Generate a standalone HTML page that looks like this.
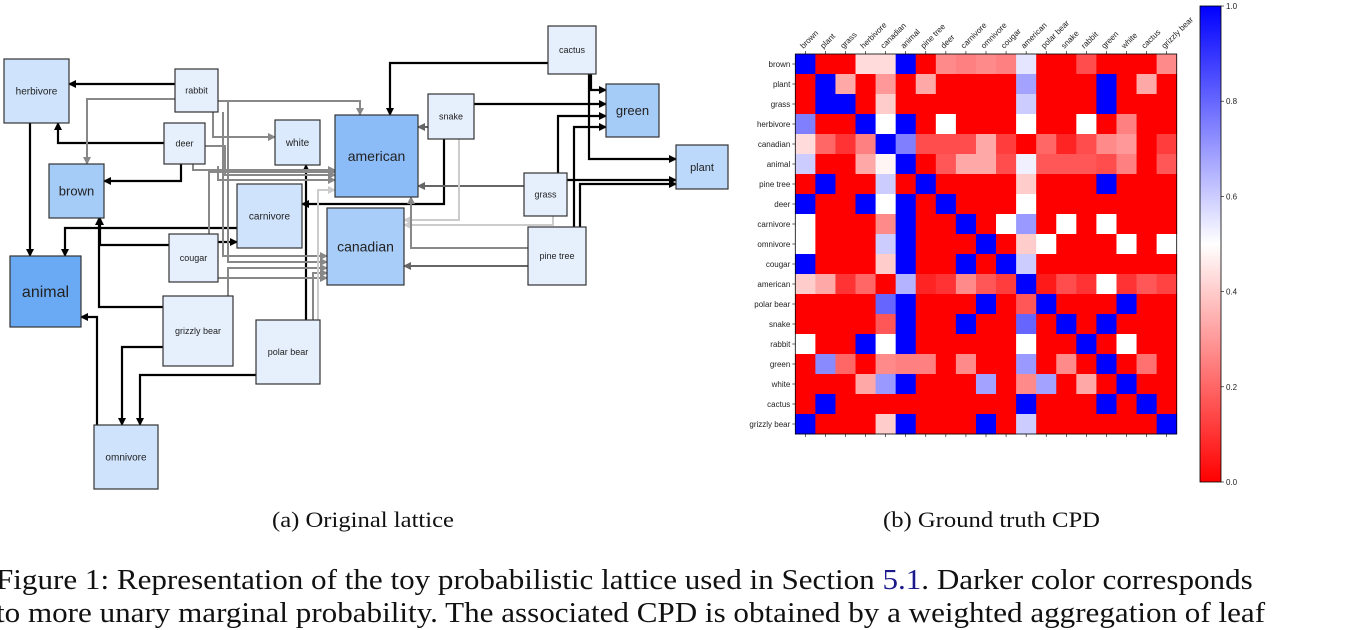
<!DOCTYPE html>
<html><head><meta charset="utf-8">
<style>
body{margin:0;width:1349px;height:624px;overflow:hidden;background:#fff;font-family:"Liberation Sans",sans-serif;position:relative}
svg{position:absolute;left:0;top:0}
.cap{position:absolute;font-family:"Liberation Serif",serif;white-space:nowrap;color:#111;transform-origin:0 0}
</style></head><body>
<svg id="lat" width="740" height="500" viewBox="0 0 740 500">
<defs>
<marker id="ak" markerWidth="8" markerHeight="8" refX="7" refY="4" orient="auto" markerUnits="userSpaceOnUse"><path d="M0,0L8,4L0,8z" fill="#000"/></marker>
<marker id="ag" markerWidth="8" markerHeight="8" refX="7" refY="4" orient="auto" markerUnits="userSpaceOnUse"><path d="M0,0L8,4L0,8z" fill="#888"/></marker>
<marker id="ad" markerWidth="8" markerHeight="8" refX="7" refY="4" orient="auto" markerUnits="userSpaceOnUse"><path d="M0,0L8,4L0,8z" fill="#666"/></marker>
<marker id="al" markerWidth="8" markerHeight="8" refX="7" refY="4" orient="auto" markerUnits="userSpaceOnUse"><path d="M0,0L8,4L0,8z" fill="#ccc"/></marker>
</defs>
<g id="edges"></g><g id="nodes"></g>
</svg>
<svg id="hm" width="1349" height="500" style="left:0;top:0" viewBox="0 0 1349 500">
<defs><linearGradient id="cb" x1="0" y1="0" x2="0" y2="1"><stop offset="0" stop-color="#0000ff"/><stop offset="0.5" stop-color="#ffffff"/><stop offset="1" stop-color="#ff0000"/></linearGradient></defs>
<g id="cells"></g><g id="hlabels"></g>
<rect x="1200" y="6" width="21" height="476" fill="url(#cb)" stroke="#000" stroke-width="0.8"/>
<g id="cbt"></g>
</svg>
<div class="cap" style="left:272px;top:507px;font-size:22px;transform:scaleX(1.12)">(a) Original lattice</div>
<div class="cap" style="left:883px;top:507px;font-size:22px;transform:scaleX(1.12)">(b) Ground truth CPD</div>
<div class="cap" style="left:-4px;top:565px;font-size:28px;transform:scaleX(1.11)">Figure 1: Representation of the toy probabilistic lattice used in Section <span style="color:#1a1a8c">5.1</span>. Darker color corresponds</div>
<div class="cap" style="left:-4px;top:598px;font-size:28px;transform:scaleX(1.11)">to more unary marginal probability. The associated CPD is obtained by a weighted aggregation of leaf</div>
<script>
const NS="http://www.w3.org/2000/svg";
function mk(t,a,p){const e=document.createElementNS(NS,t);for(const k in a)e.setAttribute(k,a[k]);p.appendChild(e);return e;}
const nodes=[["herbivore",4,59,65,64,"#cfe3fc",10],["rabbit",175,69,43,43,"#e6f0fd",9],["deer",164,123,41,41,"#e6f0fd",9],["white",275,120,45,45,"#dbeafd",10],["brown",49,164,55,54,"#a5cbf7",13],["carnivore",237,184,65,64,"#cfe3fc",10],["cougar",169,234,49,48,"#e6f0fd",9],["animal",10,256,71,71,"#6aaaf5",16],["grizzly bear",163,296,70,70,"#e6f0fd",9],["polar bear",256,320,64,64,"#e6f0fd",9],["omnivore",94,425,64,64,"#cfe3fc",10],["american",335,115,83,82,"#8bbcf8",14],["canadian",327,208,77,77,"#a8cdf9",14],["snake",428,94,46,45,"#e6f0fd",9],["cactus",548,26,48,48,"#e6f0fd",9],["green",606,84,53,53,"#a5cbf7",13],["plant",676,145,52,44,"#bcd8fa",11],["grass",524,173,43,43,"#e6f0fd",9],["pine tree",528,227,58,58,"#e6f0fd",9]];
const edges=[
["k","175,84 69,84"],["k","164,143 58,143 58,123"],["k","181,164 181,181 104,181"],["k","30,123 30,256"],["k","237,228 65,228 65,256"],
["k","169,245 100,245 100,218"],["k","163,307 99,307 99,218"],["k","218,242 237,242"],["k","97,425 97,317 81,317"],["k","163,347 122,347 122,425"],
["k","256,375 140,375 140,425"],["k","306,320 306,165"],["k","444,139 444,204 302,204"],["k","548,63 390,63 390,115"],["k","474,104 606,104"],
["k","591,74 591,90 606,90"],["k","589,74 589,159 676,159"],["k","558,173 558,116 606,116"],["k","574,227 574,127 606,127"],["k","567,180 676,180"],["k","580,227 580,184 676,184"],
["g","175,99 87,99 87,164"],["g","213,112 213,137 275,137"],["g","218,101 360,101 360,115"],["g","193,164 193,170 335,170"],
["g","228,101 228,262 327,262"],["g","223,112 223,256 327,256"],["g","205,146 225,146 225,175 335,175"],["g","209,234 209,172 335,172"],["g","218,278 327,278"],["g","228,296 228,268 327,268"],
["g","218,166 218,180 335,180"],["g","313,320 313,273 327,273"],["l","318,320 318,190 335,190"],
["d","524,186 418,186"],["l","553,216 553,225 404,225"],["l","459,139 459,220 404,220"],["d","528,266 404,266"],["g","528,248 411,248 411,197"],["d","428,127 418,127"]];
const col={k:"#000",g:"#888",d:"#666",l:"#ccc"};
const eg=document.getElementById("edges");
edges.forEach((e,i)=>{const p=mk("polyline",{points:e[1],fill:"none",stroke:col[e[0]],"stroke-width":e[0]=="k"?2.2:2,"marker-end":"url(#a"+e[0]+")"},eg);

});
const ng=document.getElementById("nodes");
nodes.forEach(n=>{const g=mk("g",{},ng);


mk("rect",{x:n[1],y:n[2],width:n[3],height:n[4],fill:n[5],stroke:"#333","stroke-width":1.2},g);
const t=mk("text",{x:n[1]+n[3]/2,y:n[2]+n[4]/2+n[6]*0.35,"text-anchor":"middle","font-size":n[6],fill:"#222","font-family":"Liberation Sans, sans-serif"},g);t.textContent=n[0];});
</script>
<script>
const labels=["brown","plant","grass","herbivore","canadian","animal","pine tree","deer","carnivore","omnivore","cougar","american","polar bear","snake","rabbit","green","white","cactus","grizzly bear"];
const rowBrown=[1,0,0,.43,.43,1,0,.27,.25,.27,.25,.55,0,0,.15,0,0,0,.27];
const rowPlant=[0,1,.33,0,.3,0,.33,0,0,0,0,.68,0,0,0,1,0,.33,0];
const rowGrass=[0,1,1,0,.4,0,0,0,0,0,0,.6,0,0,0,1,0,0,0];
const rowHerbivore=[.75,0,0,1,.5,1,0,.5,0,0,0,.5,0,0,.5,0,.25,0,0];
const rowCanadian=[.43,.2,.1,.25,1,.75,.15,.15,.15,.33,.12,0,.2,.07,.15,.27,.3,0,.12];
const rowAnimal=[.6,0,0,.33,.48,1,0,.17,.33,.33,.15,.53,.17,.17,.17,.15,.25,0,.17];
const rowPineTree=[0,1,0,0,.6,0,1,0,0,0,0,.4,0,0,0,1,0,0,0];
const rowDeer=[1,0,0,1,.5,1,0,1,0,0,0,.5,0,0,0,0,0,0,0];
const rowCarnivore=[.5,0,0,0,.27,1,0,0,1,0,.5,.7,0,.5,0,.5,0,0,0];
const rowOmnivore=[.5,0,0,0,.6,1,0,0,0,1,0,.4,.5,0,0,0,.5,0,.5];
const rowCougar=[1,0,0,0,.4,1,0,0,1,0,1,.6,0,0,0,0,0,0,0];
const rowAmerican=[.4,.33,.1,.2,0,.65,.07,.1,.27,.17,.12,1,.05,.15,.1,.5,.1,.17,.13];
const rowPolarBear=[0,0,0,0,.8,1,0,0,0,1,0,.17,1,0,0,0,1,0,0];
const rowSnake=[0,0,0,0,.17,1,0,0,1,0,0,.8,0,1,0,1,0,0,0];
const rowRabbit=[.5,0,0,1,.5,1,0,0,0,0,0,.5,0,0,1,0,.5,0,0];
const rowGreen=[0,.73,.2,0,.27,.25,.25,0,.27,0,0,.7,0,.27,0,1,0,.22,0];
const rowWhite=[0,0,0,.33,.7,1,0,0,0,.68,0,.27,.68,0,.33,0,1,0,0];
const rowCactus=[0,1,0,0,0,0,0,0,0,0,0,1,0,0,0,1,0,1,0];
const rowGrizzly=[1,0,0,0,.4,1,0,0,0,1,0,.6,0,0,0,0,0,0,1];
const matrix=[rowBrown,rowPlant,rowGrass,rowHerbivore,rowCanadian,rowAnimal,rowPineTree,rowDeer,rowCarnivore,rowOmnivore,rowCougar,rowAmerican,rowPolarBear,rowSnake,rowRabbit,rowGreen,rowWhite,rowCactus,rowGrizzly];
const cbTicks=[0,0.2,0.4,0.6,0.8,1.0];
const cbTickLabels=["0.0","0.2","0.4","0.6","0.8","1.0"];
const X0=795.3,X1=1176.7,Y0=54,Y1=434;
const cw=(X1-X0)/labels.length,ch=(Y1-Y0)/labels.length;
const xs=i=>X0+i*cw, ys=j=>Y0+j*ch;
function cmap(v){v=Math.max(0,Math.min(1,v));let r,g,b;if(v<=.5){r=255;g=b=Math.round(510*v);}else{r=g=Math.round(510*(1-v));b=255;}return `rgb(${r},${g},${b})`;}
const cg=document.getElementById("cells");
matrix.forEach((row,j)=>row.forEach((v,i)=>{const r=mk("rect",{x:xs(i),y:ys(j),width:cw+0.4,height:ch+0.4,fill:cmap(v)},cg);

}));
mk("rect",{x:X0,y:Y0,width:X1-X0,height:Y1-Y0,fill:"none",stroke:"#000","stroke-width":0.8},cg);
const lg=document.getElementById("hlabels");
labels.forEach((l,i)=>{const cx=xs(i)+cw/2;
mk("line",{x1:cx,y1:Y0,x2:cx,y2:Y0-3,stroke:"#000","stroke-width":0.6},lg);
mk("line",{x1:cx,y1:Y1,x2:cx,y2:Y1+3,stroke:"#000","stroke-width":0.6},lg);
const t=mk("text",{x:cx-2,y:Y0-5,"font-size":8,fill:"#222",transform:`rotate(-45 ${cx-2} ${Y0-5})`},lg);t.textContent=l;


const cy=ys(i)+ch/2;
mk("line",{x1:X0,y1:cy,x2:X0-3,y2:cy,stroke:"#000","stroke-width":0.6},lg);
const r=mk("text",{x:X0-5,y:cy+3,"font-size":8,fill:"#222","text-anchor":"end"},lg);r.textContent=l;

});
const tg=document.getElementById("cbt");
cbTicks.forEach((v,i)=>{const y=482-v*476;
mk("line",{x1:1221,y1:y,x2:1224,y2:y,stroke:"#000","stroke-width":0.6},tg);
const t=mk("text",{x:1226,y:y+3,"font-size":8,fill:"#222"},tg);t.textContent=cbTickLabels[i];

});
</script>
</body></html>
